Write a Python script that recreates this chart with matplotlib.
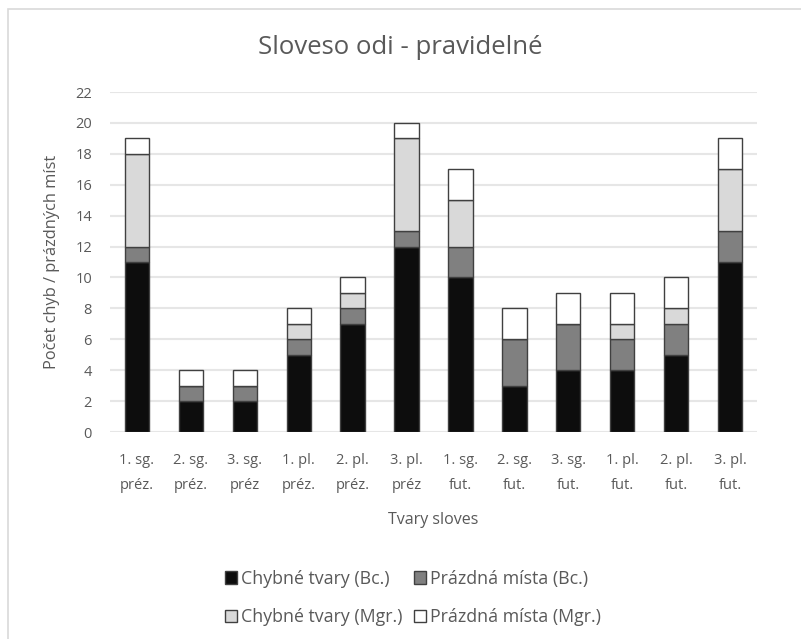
import matplotlib
matplotlib.use("Agg")
import matplotlib.pyplot as plt
from matplotlib.patches import Rectangle, Patch

categories = ["1. sg.\npréz.", "2. sg.\npréz.", "3. sg.\npréz", "1. pl.\npréz.", "2. pl.\npréz.", "3. pl.\npréz",
              "1. sg.\nfut.", "2. sg.\nfut.", "3. sg.\nfut.", "1. pl.\nfut.", "2. pl.\nfut.", "3. pl.\nfut."]
chybne_bc = [11, 2, 2, 5, 7, 12, 10, 3, 4, 4, 5, 11]
prazdna_bc = [1, 1, 1, 1, 1, 1, 2, 3, 3, 2, 2, 2]
chybne_mgr = [6, 0, 0, 1, 1, 6, 3, 0, 0, 1, 1, 4]
prazdna_mgr = [1, 1, 1, 1, 1, 1, 2, 2, 2, 2, 2, 2]
series_names = ["Chybné tvary (Bc.)", "Prázdná místa (Bc.)", "Chybné tvary (Mgr.)", "Prázdná místa (Mgr.)"]
yticks = list(range(0, 23, 2))

plt.rcParams['font.family'] = ['Open Sans', 'DejaVu Sans']
W, H = 801, 639
fig = plt.figure(figsize=(W / 100, H / 100), dpi=100)
fig.patches.append(Rectangle((8 / W, -0.2), 2, 1.2 - 9 / H, transform=fig.transFigure,
                             fill=False, edgecolor='#d9d9d9', linewidth=1.2))
ax = fig.add_axes([110 / W, 1 - 432 / H, (757 - 110) / W, (432 - 92) / H])

colors = ['#0d0d0d', '#808080', '#d9d9d9', '#ffffff']
x = list(range(len(categories)))
bottom = [0] * len(categories)
for vals, col, name in zip([chybne_bc, prazdna_bc, chybne_mgr, prazdna_mgr], colors, series_names):
    ax.bar(x, vals, bottom=bottom, width=0.45, color=col, edgecolor='#404040', linewidth=1.0, label=name, zorder=3)
    bottom = [b + v for b, v in zip(bottom, vals)]

ax.set_xlim(-0.5, len(categories) - 0.5)
ax.set_ylim(0, 22)
ax.set_yticks(yticks)
ax.grid(axis='y', color='#e6e6e6', linewidth=1.5, zorder=0)
for s in ax.spines.values():
    s.set_visible(False)
ax.tick_params(axis='both', length=0, colors='#595959', labelsize=10.5)
ax.tick_params(axis='x', pad=15)
ax.tick_params(axis='y', pad=13)
ax.set_xticks(x)
ax.set_xticklabels(categories, linespacing=1.9)
ax.set_xlabel("Tvary sloves", color='#595959', fontsize=11.5, labelpad=14)
ax.set_ylabel("Počet chyb / prázdných míst", color='#595959', fontsize=11.8, labelpad=11)
fig.text(400 / W, 1 - 47 / H, "Sloveso odi - pravidelné", ha='center', va='center', color='#595959', fontsize=18.5)

handles = [Patch(facecolor=c, edgecolor='#404040', linewidth=1.0) for c in colors]
order = [0, 2, 1, 3]
leg = fig.legend([handles[i] for i in order], [series_names[i] for i in order], loc='center',
                 bbox_to_anchor=(413 / W, 1 - 598 / H), ncol=2,
                 frameon=False, fontsize=12.8, handlelength=0.7, handleheight=0.7, handletextpad=0.25,
                 columnspacing=0.6, labelspacing=1.15, labelcolor='#595959')

fig.savefig("out.png", dpi=100, facecolor='white')
